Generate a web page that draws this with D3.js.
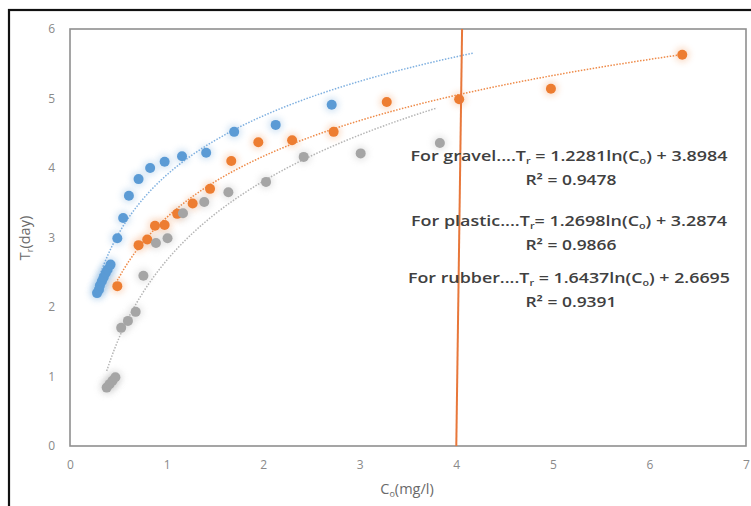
<!DOCTYPE html>
<html>
<head>
<meta charset="utf-8">
<script src="https://cdn.jsdelivr.net/npm/d3@7"></script>
<style>
  body { margin: 0; background: #fff; }
  svg { display: block; }
</style>
</head>
<body>
<div id="graf"></div>
<script>
// datos
gravelX = [0.28, 0.30, 0.31, 0.33, 0.35, 0.37, 0.39, 0.42, 0.49, 0.55, 0.61, 0.71, 0.83, 0.98, 1.16, 1.41, 1.70, 2.13, 2.71]
gravelY = [2.20, 2.25, 2.31, 2.37, 2.43, 2.49, 2.54, 2.61, 2.99, 3.28, 3.60, 3.84, 4.00, 4.09, 4.17, 4.22, 4.52, 4.62, 4.91]

plasticX = [0.49, 0.71, 0.80, 0.88, 0.98, 1.11, 1.27, 1.45, 1.67, 1.95, 2.30, 2.73, 3.28, 4.03, 4.98, 6.34]
plasticY = [2.30, 2.89, 2.97, 3.17, 3.18, 3.34, 3.49, 3.70, 4.10, 4.37, 4.40, 4.52, 4.95, 4.99, 5.14, 5.63]

rubberX = [0.38, 0.41, 0.44, 0.47, 0.53, 0.60, 0.68, 0.76, 0.89, 1.01, 1.17, 1.39, 1.64, 2.03, 2.42, 3.01, 3.83]
rubberY = [0.84, 0.89, 0.94, 0.99, 1.70, 1.80, 1.93, 2.45, 2.92, 2.99, 3.35, 3.51, 3.65, 3.80, 4.16, 4.21, 4.36]

// coeficientes de las líneas de tendencia (a*ln(x) + b) y su rango en x
trendA = [1.2281, 1.2698, 1.6437]
trendB = [3.8984, 3.2874, 2.6695]
trendMin = [0.28, 0.49, 0.38]
trendMax = [4.17, 6.34, 3.80]

xTicks = [0, 1, 2, 3, 4, 5, 6, 7]
yTicks = [0, 1, 2, 3, 4, 5, 6]

colores = ['#5b9bd5', '#ed7d31', '#a5a5a5']
coloresTend = ['#7fb0e0', '#ee8a48', '#b5b5b5']

ancho_total = 751
alto_total = 506
margins = { top: 29, left: 70, right: 5, bottom: 60 }
ancho = 746 - margins.left
alto = 446 - margins.top

svg = d3.select('#graf').append('svg')
        .attr('width', ancho_total)
        .attr('height', alto_total)

// marco exterior negro
svg.append('rect')
   .attr('x', 9).attr('y', 10)
   .attr('width', 800).attr('height', 600)
   .attr('fill', '#fff')
   .attr('stroke', '#111')
   .attr('stroke-width', 2.2)

g = svg.append('g')
       .attr('transform', `translate(${margins.left}, ${margins.top})`)

x = d3.scaleLinear().domain([0, 7]).range([0, ancho])
y = d3.scaleLinear().domain([0, 6]).range([alto, 0])

// glow para los puntos
defs = svg.append('defs')
filt = defs.append('filter').attr('id', 'glow')
           .attr('x', '-100%').attr('y', '-100%').attr('width', '300%').attr('height', '300%')
filt.append('feGaussianBlur').attr('stdDeviation', 3)

// borde del área de trazado
g.append('rect')
 .attr('width', ancho).attr('height', alto)
 .attr('fill', 'none')
 .attr('stroke', '#8f8f8f')
 .attr('stroke-width', 1.6)

// ejes
xAxisCall = d3.axisBottom(x).tickValues(xTicks).tickSize(0).tickPadding(14).tickFormat(d3.format('d'))
yAxisCall = d3.axisLeft(y).tickValues(yTicks).tickSize(0).tickPadding(15).tickFormat(d3.format('d'))

xAxisGroup = g.append('g').attr('transform', `translate(0, ${alto})`).call(xAxisCall)
yAxisGroup = g.append('g').call(yAxisCall)

;[xAxisGroup, yAxisGroup].forEach(a => {
  a.select('.domain').remove()
  a.selectAll('text')
   .attr('font-family', '"Open Sans", sans-serif')
   .attr('font-size', '12px')
   .attr('fill', '#8a8a8a')
})

// títulos de ejes
xTitle = svg.append('text')
            .attr('x', 407).attr('y', 494)
            .attr('text-anchor', 'middle')
            .attr('font-family', '"Open Sans", sans-serif')
            .attr('font-size', '14.5px')
            .attr('fill', '#6a6a6a')
xTitle.append('tspan').text('C')
xTitle.append('tspan').attr('font-size', '9px').attr('dy', 3).text('o')
xTitle.append('tspan').attr('dy', -3).text('(mg/l)')

yTitle = svg.append('text')
            .attr('transform', 'translate(30, 238) rotate(-90)')
            .attr('text-anchor', 'middle')
            .attr('font-family', '"Open Sans", sans-serif')
            .attr('font-size', '14.5px')
            .attr('fill', '#6a6a6a')
yTitle.append('tspan').text('T')
yTitle.append('tspan').attr('font-size', '9px').attr('dy', 3).text('r')
yTitle.append('tspan').attr('dy', -3).text('(day)')

// líneas de tendencia
linea = d3.line().x(d => x(d[0])).y(d => y(d[1]))
trendA.forEach((a, i) => {
  pts = d3.range(0, 101).map(k => {
    xv = trendMin[i] + (trendMax[i] - trendMin[i]) * k / 100
    return [xv, a * Math.log(xv) + trendB[i]]
  })
  g.append('path')
   .attr('d', linea(pts))
   .attr('fill', 'none')
   .attr('stroke', coloresTend[i])
   .attr('stroke-width', 1.5)
   .attr('stroke-dasharray', '1.5,1.5')
})

// puntos
series = [[gravelX, gravelY], [plasticX, plasticY], [rubberX, rubberY]]
series.forEach((s, i) => {
  datos = s[0].map((v, k) => [v, s[1][k]])
  g.append('g').selectAll('circle')
   .data(datos).enter().append('circle')
   .attr('cx', d => x(d[0])).attr('cy', d => y(d[1]))
   .attr('r', 7.5)
   .attr('fill', colores[i])
   .attr('opacity', 0.25)
   .attr('filter', 'url(#glow)')
})
series.forEach((s, i) => {
  datos = s[0].map((v, k) => [v, s[1][k]])
  g.append('g').selectAll('circle')
   .data(datos).enter().append('circle')
   .attr('cx', d => x(d[0])).attr('cy', d => y(d[1]))
   .attr('r', 5)
   .attr('fill', colores[i])
})

// línea vertical naranja
g.append('line')
 .attr('x1', x(4.06)).attr('y1', 0)
 .attr('x2', x(4.0)).attr('y2', alto)
 .attr('stroke', '#e8773a')
 .attr('stroke-width', 2)

// ecuaciones
eqs = [
  ['For gravel....T', 'r', ' = 1.2281ln(C', 'o', ') + 3.8984', 'R² = 0.9478'],
  ['For plastic....T', 'r', '= 1.2698ln(C', 'o', ') + 3.2874', 'R² = 0.9866'],
  ['For rubber....T', 'r', ' = 1.6437ln(C', 'o', ') + 2.6695', 'R² = 0.9391']
]
eqY = [161, 226, 283]
eqAncho = [317, 316, 322]
eqs.forEach((e, i) => {
  t = svg.append('text')
         .attr('x', 569).attr('y', eqY[i])
         .attr('text-anchor', 'middle')
         .attr('font-family', '"Open Sans", sans-serif')
         .attr('font-weight', 600)
         .attr('font-size', '15px')
         .attr('fill', '#404040')
  t.append('tspan').text(e[0])
  t.append('tspan').attr('font-size', '9px').attr('dy', 3).text(e[1])
  t.append('tspan').attr('dy', -3).text(e[2])
  t.append('tspan').attr('font-size', '9px').attr('dy', 3).text(e[3])
  t.append('tspan').attr('dy', -3).text(e[4])
  t.attr('textLength', eqAncho[i]).attr('lengthAdjust', 'spacingAndGlyphs')

  svg.append('text')
     .attr('x', 571).attr('y', eqY[i] + 24)
     .attr('text-anchor', 'middle')
     .attr('font-family', '"Open Sans", sans-serif')
     .attr('font-weight', 600)
     .attr('font-size', '15px')
     .attr('fill', '#404040')
     .attr('textLength', 91)
     .attr('lengthAdjust', 'spacingAndGlyphs')
     .text(e[5])
})
</script>
</body>
</html>
